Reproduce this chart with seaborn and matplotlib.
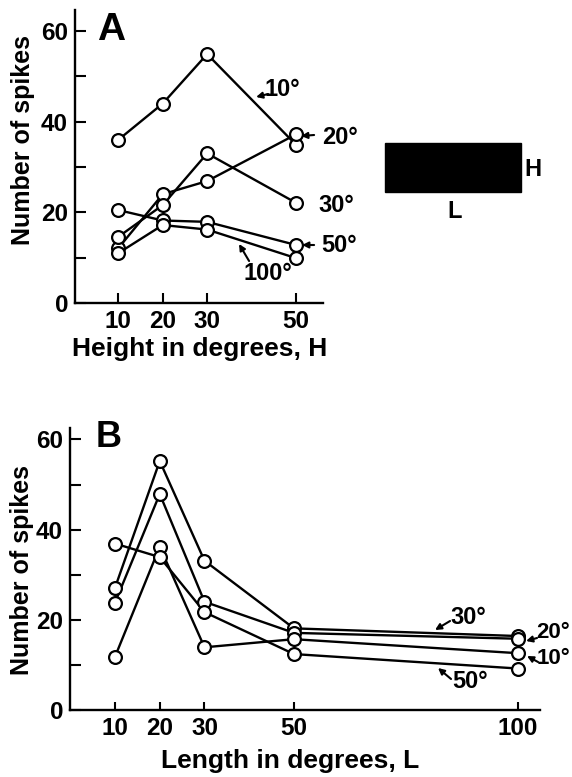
import matplotlib
matplotlib.use("Agg")
import matplotlib.pyplot as plt
from matplotlib.patches import Rectangle
from matplotlib.ticker import FixedLocator, FixedFormatter
import seaborn as sns
import pandas as pd

# ---------------- data ----------------
# Panel A: x = height (deg), series = length labels
heights = [10, 20, 30, 50]
a_labels = ["10°", "20°", "30°", "50°", "100°"]
a_10 = [36.0, 44.0, 54.9, 34.9]
a_20 = [12.1, 24.0, 26.9, 37.2]
a_30 = [14.6, 21.6, 33.0, 22.1]
a_50 = [20.5, 18.2, 17.9, 12.8]
a_100 = [11.0, 17.2, 16.2, 9.9]

# Panel B: x = length (deg), series = height labels
lengths = [10, 20, 30, 50, 100]
b_labels = ["30°", "20°", "10°", "50°"]
b_30 = [27.1, 55.2, 33.1, 18.1, 16.4]
b_20 = [23.8, 47.9, 24.0, 17.1, 15.8]
b_10 = [11.8, 36.2, 13.9, 15.7, 12.6]
b_50 = [36.9, 33.9, 21.7, 12.4, 9.2]

y_ticks = [0, 10, 20, 30, 40, 50, 60]
y_ticklabels = ["0", "", "20", "", "40", "", "60"]

# ---------------- style ----------------
sns.set_style("ticks")
plt.rcParams["font.family"] = ["Liberation Sans", "DejaVu Sans"]
plt.rcParams["font.weight"] = "bold"
for k in ("text.color", "axes.labelcolor", "xtick.color", "ytick.color",
          "axes.edgecolor", "xtick.labelcolor", "ytick.labelcolor"):
    plt.rcParams[k] = "black"

W, H = 572, 777
fig = plt.figure(figsize=(W / 100, H / 100), dpi=100)


def fx(px):
    return px / W


def fy(py):
    return 1 - py / H


def long_df(xs, series, names):
    rows = []
    for name, vals in zip(names, series):
        for x, v in zip(xs, vals):
            rows.append({"x": x, "y": v, "s": name})
    return pd.DataFrame(rows)


def draw_panel(ax, df, names):
    pal = {n: "black" for n in names}
    sns.lineplot(data=df, x="x", y="y", hue="s", palette=pal, ax=ax,
                 estimator=None, sort=False, linewidth=1.7, legend=False,
                 zorder=2)
    sns.scatterplot(data=df, x="x", y="y", ax=ax, s=85, marker="o",
                    facecolor="white", edgecolor="black", linewidth=1.6,
                    legend=False, zorder=3)


def style_axes(ax, xticks, ylen, xlen):
    sns.despine(ax=ax)
    for sp in ("left", "bottom"):
        ax.spines[sp].set_linewidth(1.7)
        ax.spines[sp].set_color("black")
    ax.yaxis.set_major_locator(FixedLocator(y_ticks))
    ax.yaxis.set_major_formatter(FixedFormatter(y_ticklabels))
    ax.set_xticks(xticks)
    ax.set_xticklabels([str(t) for t in xticks])
    ax.tick_params(axis="y", direction="in", length=ylen, width=1.5,
                   labelsize=17.5, pad=5, colors="black")
    ax.tick_params(axis="x", direction="in", length=xlen, width=1.5,
                   labelsize=17.5, pad=5, colors="black")
    for lab in ax.get_xticklabels() + ax.get_yticklabels():
        lab.set_fontweight("bold")
    ax.set_xlabel("")
    ax.set_ylabel("")


# ---------------- panel A ----------------
axA = fig.add_axes([fx(75), fy(303), fx(323) - fx(75), fy(10) - fy(303)])
dfA = long_df(heights, [a_10, a_20, a_30, a_50, a_100], a_labels)
draw_panel(axA, dfA, a_labels)
axA.set_xlim(10 - 43.3 / 4.44, 50 + 27 / 4.44)
axA.set_ylim(0, (303 - 10) / 4.533)
style_axes(axA, heights, 8, 7)


def a_xy(px, py):
    return 10 + (px - 118.3) / 4.44, (303 - py) / 4.533


def b_xy(px, py):
    return 10 + (px - 115) / 4.474, (710 - py) / 4.51


arrow_kw = dict(arrowstyle="-|>", lw=1.5, color="black", shrinkA=0,
                shrinkB=0, mutation_scale=9)

# series labels panel A: (label, text center, arrow head, arrow tail)
a_annot = [
    (a_labels[0], (282, 90), (256, 97), (268, 94)),
    (a_labels[1], (340, 137), (301, 136), (314, 135)),
    (a_labels[2], (336, 205), None, None),
    (a_labels[3], (339, 245), (302, 245), (314, 245)),
    (a_labels[4], (268, 273), (239, 244), (249, 261)),
]
for lab, tc, head, tail in a_annot:
    axA.text(*a_xy(*tc), lab, ha="center", va="center", fontsize=17,
             fontweight="bold", clip_on=False)
    if head is not None:
        axA.annotate("", xy=a_xy(*head), xytext=a_xy(*tail),
                     arrowprops=arrow_kw, annotation_clip=False)

# ---------------- panel B ----------------
axB = fig.add_axes([fx(70), fy(710), fx(540) - fx(70), fy(428) - fy(710)])
dfB = long_df(lengths, [b_30, b_20, b_10, b_50], b_labels)
draw_panel(axB, dfB, b_labels)
axB.set_xlim(10 - 45 / 4.474, 100 + 22.3 / 4.474)
axB.set_ylim(0, (710 - 428) / 4.51)
style_axes(axB, lengths, 8, 6)

b_annot = [
    (b_labels[0], (468, 617), (435, 630), (450, 621), 17),
    (b_labels[1], (553, 632), (526, 641), (537, 638), 16),
    (b_labels[2], (553, 658), (527, 656), (538, 662), 16),
    (b_labels[3], (470, 681), (438, 668), (451, 679), 17),
]
for lab, tc, head, tail, fs in b_annot:
    axB.text(*b_xy(*tc), lab, ha="center", va="center", fontsize=fs,
             fontweight="bold", clip_on=False)
    axB.annotate("", xy=b_xy(*head), xytext=b_xy(*tail),
                 arrowprops=arrow_kw, annotation_clip=False)

# ---------------- texts ----------------
fig.text(fx(97), fy(40), "A", fontsize=28, fontweight="bold",
         ha="left", va="baseline")
fig.text(fx(96), fy(447), "B", fontsize=26, fontweight="bold",
         ha="left", va="baseline")
fig.text(fx(200), fy(356), "Height in degrees, H", fontsize=19,
         fontweight="bold", ha="center", va="baseline")
fig.text(fx(290), fy(768), "Length in degrees, L", fontsize=19,
         fontweight="bold", ha="center", va="baseline")
fig.text(fx(23), fy(140), "Number of spikes", fontsize=18,
         fontweight="bold", rotation=90, ha="center", va="center")
fig.text(fx(22), fy(570), "Number of spikes", fontsize=18,
         fontweight="bold", rotation=90, ha="center", va="center")

# stimulus bar icon
fig.add_artist(Rectangle((fx(385), fy(192)), fx(521) - fx(385),
                         fy(143) - fy(192), transform=fig.transFigure,
                         facecolor="black", edgecolor="black"))
fig.text(fx(533), fy(169), "H", fontsize=17, fontweight="bold",
         ha="center", va="center")
fig.text(fx(455), fy(211), "L", fontsize=17, fontweight="bold",
         ha="center", va="center")

fig.savefig("out.png", dpi=100)
